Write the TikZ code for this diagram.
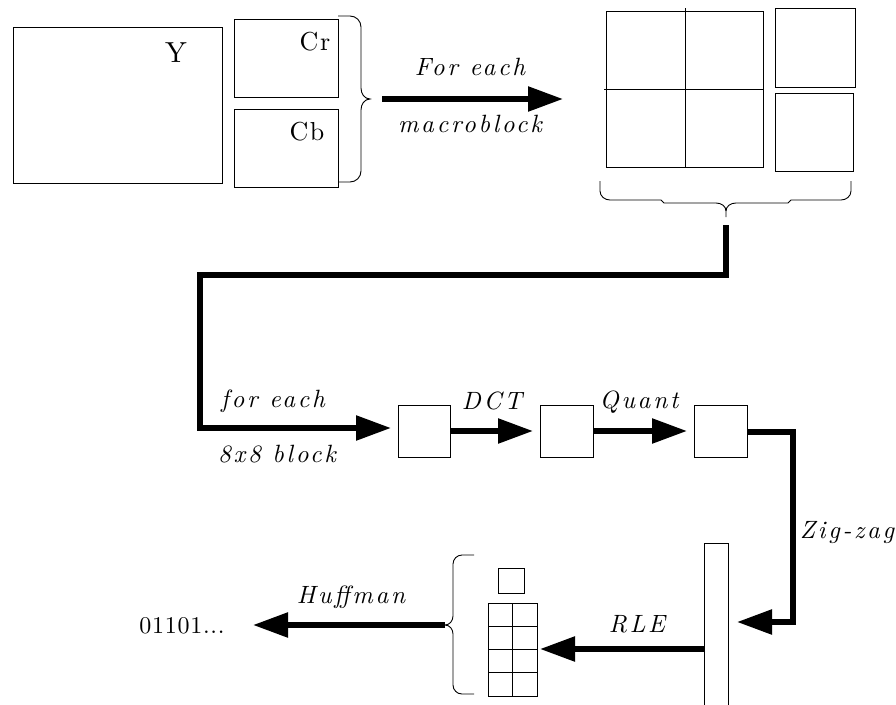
\documentclass[tikz,border=0pt]{standalone}
\usepackage{fontspec}
\newfontfamily\spacedit{lmroman10-italic.otf}[LetterSpace=11]
\newfontfamily\spacedrm{lmroman10-regular.otf}[LetterSpace=6]
\newfontfamily\spacedbits{lmroman10-regular.otf}[LetterSpace=3]
\usetikzlibrary{arrows.meta}
\tikzset{
  box/.style={draw, line width=1pt, inner sep=0pt, outer sep=0pt},
  thinline/.style={line width=1pt},
  flow/.style={line width=5.5pt, -{Triangle[length=35pt,width=24pt]}},
  bracepath/.style={line width=0.9pt},
  itlabel/.style={font=\spacedit\fontsize{25}{30}\selectfont, inner sep=0pt, anchor=base},
  rmlabel/.style={font=\spacedrm\fontsize{26}{30}\selectfont, inner sep=0pt, anchor=base},
  bitlabel/.style={font=\spacedbits\fontsize{24}{28}\selectfont, inner sep=0pt, anchor=base},
}
\begin{document}
\begin{tikzpicture}[x=1pt,y=-1pt]
\useasboundingbox (0,0) rectangle (896,704);
% top-left frame
\node[box, minimum width=209pt, minimum height=156pt] (Y) at (117.5,105) {};
\node[box, minimum width=104pt, minimum height=78pt] (Cr) at (286,58) {};
\node[box, minimum width=104pt, minimum height=78pt] (Cb) at (286,148) {};
\node[rmlabel, font=\spacedrm\fontsize{29}{32}\selectfont] (Ylab) at (176,62) {Y};
\node[rmlabel] (Crlab) at (315,50) {Cr};
\node[rmlabel] (Cblab) at (307,140) {Cb};
% brace right of Cr/Cb
\draw[bracepath] (338,16) -- (350,16) to[out=0,in=90] (361,27) -- (361,88)
  to[out=-90,in=180] (370,99) to[out=180,in=90] (361,110) -- (361,171)
  to[out=-90,in=0] (350,182) -- (338,182);
\coordinate (ts) at (382,99);
\coordinate (te) at (563,99);
\draw[flow] (ts) -- (te);
\node[itlabel] (fe1) at (470,75) {For each};
\node[itlabel] (mb) at (470,132) {macroblock};
% macroblock
\node[box, minimum width=157pt, minimum height=156pt] (MB) at (684.5,89) {};
\draw[thinline] (685,8) -- (685,167);
\draw[thinline] (604,89) -- (763,89);
\node[box, minimum width=80pt, minimum height=79pt] (MCr) at (815,47.5) {};
\node[box, minimum width=78pt, minimum height=78pt] (MCb) at (814,132) {};
% brace under macroblock
\draw[bracepath] (600,181) -- (600,191) to[out=-90,in=180] (610,200) -- (661,200) -- (664,203) -- (716,203)
  to[out=0,in=90] (726,211) -- (726,217);
\draw[bracepath] (726,211) to[out=90,in=180] (736,203) -- (788,203) -- (791,200) -- (841,200)
  to[out=0,in=-90] (851,191) -- (851,181);
\coordinate (bbs) at (726,225);
% 8x8 pipeline
\node[box, minimum width=52pt, minimum height=52pt] (b1) at (424,431) {};
\node[box, minimum width=53pt, minimum height=52pt] (b2) at (566.5,431) {};
\node[box, minimum width=53pt, minimum height=52pt] (b3) at (720.5,431) {};
\draw[flow, shorten >=7pt] (bbs) -- (726,275) -- (200,275) -- (200,428) -- ([yshift=3pt]b1.west);
\node[itlabel] (fe2) at (273,407) {for each};
\node[itlabel] (bl) at (277,462) {8x8 block};
\draw[flow, shorten >=7pt] (b1.east) -- (b2.west);
\draw[flow, shorten >=7pt] (b2.east) -- (b3.west);
\node[itlabel] (dct) at (492,409) {DCT};
\node[itlabel] (qt) at (639,408) {Quant};
% zig-zag vector
\node[box, minimum width=24pt, minimum height=202pt] (bar) at (716,644) {};
\coordinate (zz) at (793,622);
\draw[flow, shorten >=9pt] ([yshift=-1pt]b3.east) -| (zz) -- (zz -| bar.east);
\node[itlabel] (zg) at (847,538) {Zig-zag};
% RLE output
\node[box, minimum width=26pt, minimum height=25pt] (dc) at (511,580.5) {};
\node[box, minimum width=49pt, minimum height=93pt] (grid) at (512.5,649.5) {};
\draw[thinline] (512,603) -- (512,696);
\foreach \yy in {626,649,672} \draw[thinline] (488,\yy) -- (537,\yy);
\coordinate (rl) at (705,649);
\draw[flow, shorten >=3pt] (rl) -- (rl -| grid.east);
\node[itlabel] (rle) at (637,632) {RLE};
% left brace
\draw[bracepath] (474,555) -- (462,555) to[out=180,in=90] (453,564) -- (453,616)
  to[out=-90,in=0] (445,625) to[out=0,in=90] (453,634) -- (453,685)
  to[out=-90,in=180] (462,694) -- (474,694);
\coordinate (lbt) at (445,625);
\coordinate (ht) at (253,625);
\draw[flow] (lbt) -- (ht);
\node[itlabel] (huf) at (351,603) {Huffman};
\node[bitlabel] (bits) at (182,633) {01101...};
\end{tikzpicture}
\end{document}
